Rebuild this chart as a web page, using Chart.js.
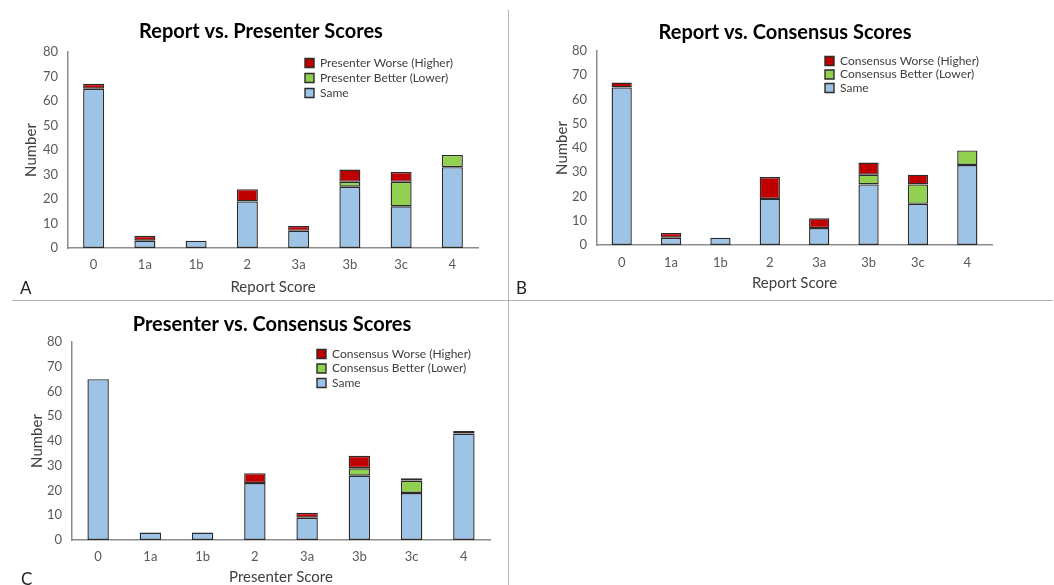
<!DOCTYPE html>
<html>
<head>
<meta charset="utf-8">
<script src="https://cdn.jsdelivr.net/npm/chart.js@4/dist/chart.umd.min.js"></script>
<style>
  body { margin: 0; background: #fff; }
  #page { position: relative; width: 1054px; height: 585px; overflow: hidden; font-family: Lato, sans-serif; }
  canvas { position: absolute; }
  .tag { position: absolute; font-size: 17px; color: #222; line-height: 1; }
  .vline { position: absolute; left: 508px; top: 10px; width: 1px; height: 575px; background: #b4b4b4; }
  .hline { position: absolute; left: 12px; top: 300px; width: 1041px; height: 1px; background: #b4b4b4; }
</style>
</head>
<body>
<div id="page">
  <canvas id="chartA"></canvas>
  <canvas id="chartB"></canvas>
  <canvas id="chartC"></canvas>
  <div class="vline"></div>
  <div class="hline"></div>
  <div class="tag" style="left:20px; top:279px;">A</div>
  <div class="tag" style="left:516px; top:279px;">B</div>
  <div class="tag" style="left:21px; top:570px;">C</div>
</div>
<script>
// categories
var scores = ["0", "1a", "1b", "2", "3a", "3b", "3c", "4"];

// A: report vs presenter
var sameA = [65, 3, 3, 19, 7, 25, 17, 33];
var betterA = [0, 0, 0, 0, 0, 2, 10, 5];
var worseA = [2, 2, 0, 5, 2, 5, 4, 0];

// B: report vs consensus
var sameB = [65, 3, 3, 19, 7, 25, 17, 33];
var betterB = [0, 0, 0, 0, 0, 4, 8, 6];
var worseB = [2, 2, 0, 9, 4, 5, 4, 0];

// C: presenter vs consensus
var sameC = [65, 3, 3, 23, 9, 26, 19, 43];
var betterC = [0, 0, 0, 0, 0, 3, 5, 1];
var worseC = [0, 0, 0, 4, 2, 5, 1, 0];

var FONT = "Lato, sans-serif";

// moves the legend inside the plot area (top right), like the excel one
var legendInside = {
  id: "legendInside",
  afterLayout: function (chart) {
    var lg = chart.legend, o = chart.options.plugins.legendInside;
    if (!lg || !o) return;
    var pad = chart.options.plugins.legend.labels.padding;
    lg.left = o.x - pad;
    lg.top = o.y - pad;
    lg.right = chart.width;
    lg.bottom = chart.chartArea.bottom;
  },
};

function nz(arr) {
  return arr.map(function (v) { return v === 0 ? null : v; });
}

function makeChart(id, pos, title, xTitle, who, same, better, worse, cfg) {
  var cv = document.getElementById(id);
  cv.style.left = pos.left + "px";
  cv.style.top = pos.top + "px";

  return new Chart(cv, {
    type: "bar",
    data: {
      labels: scores,
      datasets: [
        { label: "Same", data: nz(same), backgroundColor: "#9dc3e6" },
        { label: who + " Better (Lower)", data: nz(better), backgroundColor: "#92d050" },
        { label: who + " Worse (Higher)", data: nz(worse), backgroundColor: "#c00000" },
      ],
    },
    options: {
      responsive: false,
      animation: false,
      devicePixelRatio: 1,
      layout: { padding: { left: cfg.padLeft, right: cfg.padRight, top: 0, bottom: cfg.padBottom } },
      datasets: {
        bar: {
          borderColor: "#2b2b2b",
          borderWidth: 1.4,
          borderSkipped: false,
          categoryPercentage: 1,
          barPercentage: 0.41,
        },
      },
      plugins: {
        title: {
          display: true,
          text: title,
          color: "#000",
          font: { family: FONT, size: 20, weight: "bold" },
          padding: { top: cfg.titleTop, bottom: cfg.titleBottom },
        },
        legend: {
          position: "chartArea",
          align: "start",
          reverse: true,
          labels: {
            boxWidth: 9,
            boxHeight: 9,
            padding: cfg.legendGap,
            color: "#404040",
            font: { family: FONT, size: 12 },
          },
        },
        legendInside: { x: cfg.legendX, y: cfg.legendY },
        tooltip: { enabled: false },
      },
      scales: {
        x: {
          stacked: true,
          grid: { display: false, drawTicks: false },
          border: { display: true, color: "#8c8c8c", width: 1.5 },
          ticks: { color: "#595959", padding: cfg.xTickPad, font: { family: FONT, size: 13 } },
          title: {
            display: true,
            text: xTitle,
            color: "#404040",
            font: { family: FONT, size: 15 },
            padding: { top: 0, bottom: cfg.xTitlePad },
          },
          afterFit: function (s) { s.height = cfg.xHeight; },
        },
        y: {
          stacked: true,
          min: 0,
          max: 80,
          grid: { display: false, drawTicks: false },
          border: { display: true, color: "#8c8c8c", width: 1.5 },
          ticks: { stepSize: 10, color: "#595959", padding: 10, font: { family: FONT, size: 13 } },
          title: {
            display: true,
            text: "Number",
            color: "#404040",
            font: { family: FONT, size: 15 },
            padding: { top: 3, bottom: 0 },
          },
          afterFit: function (s) { s.width = cfg.yWidth; },
        },
        // empty right axis, only so the title centres like the original
        spare: {
          type: "linear",
          position: "right",
          display: true,
          grid: { display: false, drawTicks: false },
          border: { display: false },
          ticks: { display: false },
          afterFit: function (s) { s.width = cfg.spare; },
        },
      },
    },
    plugins: [legendInside],
  });
}

function sizeCanvas(id, w, h) {
  var cv = document.getElementById(id);
  cv.width = w;
  cv.height = h;
  cv.style.width = w + "px";
  cv.style.height = h + "px";
}

sizeCanvas("chartA", 505, 300);
sizeCanvas("chartB", 544, 300);
sizeCanvas("chartC", 520, 286);

makeChart("chartA", { left: 0, top: 0 }, "Report vs. Presenter Scores", "Report Score", "Presenter",
  sameA, betterA, worseA, {
    padLeft: 19, padRight: 2, padBottom: 0, yWidth: 49, spare: 25,
    titleTop: 20, titleBottom: 8, xHeight: 52, xTickPad: 9, xTitlePad: 4,
    legendX: 305, legendY: 57, legendGap: 3,
  });

makeChart("chartB", { left: 510, top: 0 }, "Report vs. Consensus Scores", "Report Score", "Consensus",
  sameB, betterB, worseB, {
    padLeft: 40, padRight: 34, padBottom: 4, yWidth: 47, spare: 28,
    titleTop: 21, titleBottom: 6, xHeight: 51, xTickPad: 10, xTitlePad: 4,
    legendX: 315, legendY: 55, legendGap: 1.5,
  });

makeChart("chartC", { left: 0, top: 300 }, "Presenter vs. Consensus Scores", "Presenter Score", "Consensus",
  sameC, betterC, worseC, {
    padLeft: 25, padRight: 1, padBottom: 0, yWidth: 47, spare: 29,
    titleTop: 13, titleBottom: 5, xHeight: 46, xTickPad: 9, xTitlePad: 0,
    legendX: 317, legendY: 48, legendGap: 2.5,
  });
</script>
</body>
</html>
